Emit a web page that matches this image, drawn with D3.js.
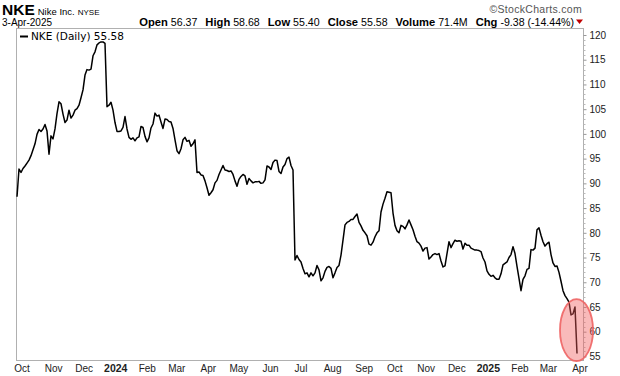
<!DOCTYPE html>
<html><head><meta charset="utf-8">
<script src="https://cdn.jsdelivr.net/npm/d3@7/dist/d3.min.js"></script>
<style>html,body{margin:0;padding:0;background:#fff;}svg{display:block;}</style>
</head><body>
<svg id="c" width="620" height="376"></svg>
<script>
const startDate = new Date(2023, 8, 27);
const endDate = new Date(2025, 3, 3);
const closes = [
87.3,92.9,92.2,93.0,93.5,94.1,94.7,95.6,96.8,98.0,99.9,100.9,100.5,101.0,101.9,100.6,95.9,99.6,99.0,101.0,
104.1,106.5,106.1,104.0,102.3,102.8,104.8,103.2,103.8,104.8,105.1,105.8,107.3,108.9,111.9,113.0,112.9,113.1,115.8,116.6,
118.0,118.4,118.6,118.6,118.3,105.5,105.8,106.4,104.8,102.3,100.5,100.5,100.6,101.3,103.5,101.0,99.3,98.9,99.2,98.6,
99.2,99.4,101.5,101.3,99.5,98.4,99.2,101.2,102.0,104.2,103.6,103.8,102.4,101.1,103.0,102.9,102.5,102.4,101.1,98.8,
96.6,96.0,97.0,98.8,99.3,98.5,98.7,97.5,98.0,98.8,92.2,92.3,91.7,91.6,90.5,89.1,87.6,88.1,88.7,90.1,
90.6,91.8,92.7,93.6,92.7,92.6,92.4,92.5,91.8,90.5,89.4,90.8,91.4,91.8,91.5,89.8,91.0,90.5,90.1,90.3,
90.3,90.4,90.0,90.1,90.7,93.5,93.3,92.8,94.2,94.7,94.6,92.4,92.0,93.3,93.8,95.0,95.3,93.6,92.7,74.5,
75.4,74.6,74.1,72.8,71.7,71.9,71.1,71.9,71.3,71.9,73.4,72.5,70.3,70.9,72.2,73.0,73.2,72.8,70.9,71.9,
73.0,73.4,75.5,78.5,81.6,82.1,82.3,82.7,82.7,83.3,83.8,82.1,81.4,80.5,80.0,79.4,77.7,77.5,78.1,79.2,
80.0,80.4,84.2,85.8,87.0,88.3,88.2,88.1,84.0,81.5,80.4,80.0,81.5,81.3,80.8,81.6,82.6,81.6,80.6,79.3,
78.2,77.9,77.3,76.3,76.9,77.0,74.7,75.1,75.6,75.8,75.6,75.8,74.3,73.1,73.3,75.8,78.2,77.0,77.8,78.5,
78.3,78.4,78.3,76.7,77.9,77.5,77.5,76.9,76.7,76.5,76.5,76.4,76.2,74.9,74.1,72.3,71.6,71.2,71.4,70.9,
70.6,70.6,71.7,73.5,73.8,74.1,75.0,75.6,77.2,75.8,73.2,70.8,68.3,70.6,71.3,72.6,72.8,76.6,76.5,76.9,
80.6,81.0,79.5,78.2,77.3,77.8,78.1,75.6,73.9,73.2,73.3,72.0,70.2,68.3,67.3,66.7,66.0,63.4,63.6,65.0,
55.58
];
const yTicks = [55,60,65,70,75,80,85,90,95,100,105,110,115,120];
const monthLabels = ["Oct","Nov","Dec","2024","Feb","Mar","Apr","May","Jun","Jul","Aug","Sep","Oct","Nov","Dec","2025","Feb","Mar","Apr"];
const header = {sym:"NKE", name:"Nike Inc.", exch:"NYSE", date:"3-Apr-2025", site:"\u00A9StockCharts.com"};
const quoteLabels = ["Open","High","Low","Close","Volume","Chg"];
const quoteValues = ["56.37","58.68","55.40","55.58","71.4M","-9.38 (-14.44%)"];
const legendText = "NKE (Daily) 55.58";

const svg = d3.select("#c");
const L = 16, R = 583, T = 28, B = 360;
const n = closes.length;
const idxToDate = d3.scaleLinear().domain([0, n-1]).range([startDate.getTime(), endDate.getTime()]);
const data = closes.map((v,i)=>({d:new Date(idxToDate(i)), v}));
const x = d3.scaleTime().domain([startDate, endDate]).range([17, 577]);
const xLab = d3.scaleTime().domain([startDate, endDate]).range([18, 582]);
const y = d3.scaleLinear().domain([60,120]).range([331.7,35]);

// header
const hf = "Liberation Sans, Arial, sans-serif";
const h1 = svg.append("text").attr("x",2).attr("y",15).attr("font-family",hf).attr("fill","#000");
h1.append("tspan").attr("font-size",15.5).attr("font-weight","bold").text(header.sym);
h1.append("tspan").attr("font-size",9.5).attr("dx",3).text(header.name);
h1.append("tspan").attr("font-size",8).attr("dx",3).text(header.exch);
svg.append("text").attr("x",582).attr("y",13).attr("text-anchor","end").attr("font-family",hf)
  .attr("font-size",10.5).attr("letter-spacing",0.3).attr("fill","#555").text(header.site);
svg.append("text").attr("x",2).attr("y",25.5).attr("font-family",hf).attr("font-size",10).text(header.date);
const q = svg.append("text").attr("x",574).attr("y",25.5).attr("text-anchor","end").attr("font-family",hf);
quoteLabels.forEach((lab,i)=>{
  q.append("tspan").attr("font-weight","bold").attr("font-size",11.2).attr("dx", i ? 8 : 0).text(lab);
  q.append("tspan").attr("font-size",10.6).attr("dx",3).text(quoteValues[i]);
});
svg.append("path").attr("d","M576,19.5 L583,19.5 L579.5,24 Z").attr("fill","#c00000");

// plot frame
svg.append("rect").attr("x",L+0.5).attr("y",T+0.5).attr("width",R-L).attr("height",B-T)
  .attr("fill","#fff").attr("stroke","#b0b0b0").attr("stroke-width",1);

// y axis on right
const yAxis = d3.axisRight(y).tickValues(yTicks).tickSize(3).tickPadding(3).tickFormat(d3.format("d"));
const ga = svg.append("g").attr("transform",`translate(${R+0.5},0)`).call(yAxis);
ga.select(".domain").remove();
ga.selectAll(".tick line").attr("stroke","#999");
ga.selectAll(".tick text").attr("font-family",hf).attr("font-size",10).attr("fill","#222");
// minor ticks
const minor = d3.range(55,121,1).filter(v=>v%5!==0);
svg.append("g").selectAll("line").data(minor).join("line")
  .attr("x1",R+0.5).attr("x2",R+2.5).attr("y1",d=>Math.round(y(d))+0.5).attr("y2",d=>Math.round(y(d))+0.5)
  .attr("stroke","#bbb");

// x labels
const months = d3.timeMonth.range(new Date(2023,9,1), new Date(2025,3,2));
svg.append("g").selectAll("text").data(months).join("text")
  .attr("x",d=>xLab(d)).attr("y",372).attr("text-anchor","middle")
  .attr("font-family",hf).attr("fill","#222")
  .attr("font-size",(d,i)=>/^\d{4}$/.test(monthLabels[i])?10.5:10)
  .attr("font-weight",(d,i)=>/^\d{4}$/.test(monthLabels[i])?"bold":"normal")
  .text((d,i)=>monthLabels[i]);

// price line
svg.append("path").datum(data)
  .attr("d", d3.line().x(d=>x(d.d)).y(d=>y(d.v)))
  .attr("fill","none").attr("stroke","#000").attr("stroke-width",1.5).attr("stroke-linejoin","round");

// legend
svg.append("line").attr("x1",20).attr("x2",28).attr("y1",36.5).attr("y2",36.5).attr("stroke","#000").attr("stroke-width",2);
svg.append("text").attr("x",31).attr("y",40).attr("font-family","DejaVu Sans, Verdana, sans-serif")
  .attr("font-size",10.5).attr("fill","#000").text(legendText);

// highlight ellipse around last point
const last = data[n-1];
svg.append("ellipse").attr("cx",x(last.d)-0.5).attr("cy",y(60.3)).attr("rx",16.5).attr("ry",31)
  .attr("fill","rgba(240,90,90,0.42)").attr("stroke","rgba(238,100,100,0.9)").attr("stroke-width",1.8);
</script>
</body></html>
